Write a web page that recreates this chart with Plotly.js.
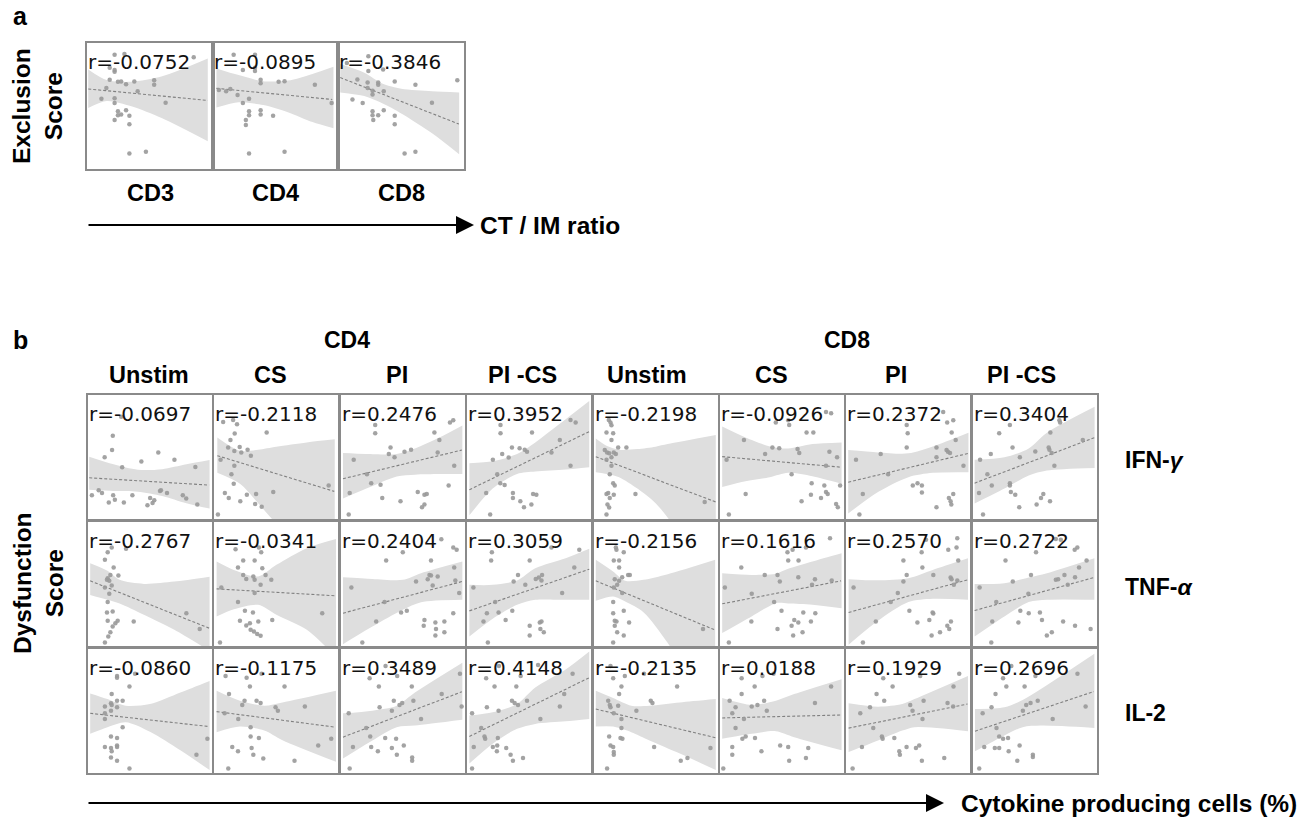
<!DOCTYPE html>
<html><head><meta charset="utf-8">
<script src="https://cdn.plot.ly/plotly-3.0.1.min.js"></script>
<style>body{margin:0;background:#fff}#plot{width:1311px;height:819px}</style>
</head><body><div id="plot"></div>
<script>
// ---------- Panel a ----------
const aLabels = ['CD3','CD4','CD8'];
const aR = ['-0.0752','-0.0895','-0.3846'];
const aX = [
 [21.4,29.4,85.6,17.4,21.4,21.4,17.4,24.1,26.7,30.7,37.4,53.5,53.5,14.7,40.1,10.7,21.4,21.4,62.8,24.1,30.7,24.1,26.7,33.4,21.4,33.4,33.4,46.8],
 [16,33.3,23.5,33.3,33.3,4,13.3,9.9,19.2,28.5,23.5,37.9,37.9,52.5,57.3,81.9,95.5,28.5,37.9,28.5,37.9,48,25.9,25.9,28.5,57.3],
 [5.9,23.3,23.3,35.3,14.4,22.7,22.7,31.3,31.3,26.7,35.8,44.7,61.5,95.5,10.4,18.7,26.7,74.9,26.7,35.8,26.7,31.3,44.7,27.3,44.7,52.7,61.5]
];
const aY = [
 [91.5,92,89.4,81,79.1,77.8,71.2,69.6,69.8,67.7,69.8,70.9,67.2,64.6,61.9,55.8,56.3,52.4,52.6,45.8,46.6,42.6,43.1,42.1,38.6,35.2,11.6,13],
 [91.5,91.5,79.1,81,78.3,63,63.8,61.9,59,55.8,52.4,71.2,68.5,69.6,70.1,67.2,52.4,45.8,46.6,42.6,43.1,42.1,38.6,34.7,11.6,13],
 [84.9,90.2,78.3,79.6,71.4,69,64.6,69,67.2,62.4,61.9,69.8,67.2,70.9,55.3,52.4,59.3,52.6,45.8,46.6,42.6,42.6,42.1,38.6,35.2,11.6,13]
];
const aLine = [[0,63.8,97,54.5],[2,64.3,96,55.3],[0.5,73,96.8,35.4]];
const aBandX = [[0,15,35,60,97],[2,20,40,60,80,97],[0.5,20,35,50,75,97]];
const aBandUp = [[79.6,71,69.6,74,88.4],[80.4,75,70,70.6,76,81.7],[84,77,68,64,62,61]];
const aBandLo = [[48.4,54,49.7,40,21.4],[48.7,53,50.8,45,37,32],[61,58,52,44,28,11]];

// ---------- Panel b ----------
const groupLabels = ['CD4','CD8'];
const colLabels = ['Unstim','CS','PI','PI -CS','Unstim','CS','PI','PI -CS'];
const rowLabels = ['IFN-<i>γ</i>','TNF-<i>α</i>','IL-2'];

const ifnR = ['-0.0697','-0.2118','0.2476','0.3952','-0.2198','-0.0926','0.2372','0.3404'];
const tnfR = ['-0.2767','-0.0341','0.2404','0.3059','-0.2156','0.1616','0.2570','0.2722'];
const il2R = ['-0.0860','-0.1175','0.3489','0.4148','-0.2135','0.0188','0.1929','0.2696'];

const ifnX = [
 [26.3,19.4,18.8,12.7,27.1,42.9,56.8,70.1,87.3,7.8,10.5,2.2,19.7,21.1,16.1,28.5,35.5,50.1,59,64,47.9,52.1,53.5,77,79.8,88.9,58.2],
 [6.2,14.4,17.6,15.7,12.2,10.3,15.4,19.8,21.1,26.3,29,42,4.1,15.4,13,14.9,7.6,10.8,20.3,25.7,33.3,32.5,37.9,47.4,93,1.9],
 [27.3,27.3,39.9,38.5,43.2,51.4,56.8,76,80.1,78.7,88.8,91.5,92.3,9.6,20.5,24,31.7,6.3,33.1,48.1,62.3,67.8,69.7,67.8,65.8,87.7,5.5],
 [26.4,26.4,52.3,20.1,27.8,33.1,35.8,42.1,46.3,48.2,75.2,68.3,84,88.2,84,23.7,26.2,29.8,14.6,36.6,36.6,42.7,45.7,53.2,55.9,51.8,17.9],
 [11.5,12.9,13.7,9.6,15.1,13.7,8.2,10.1,11.8,15.6,17.3,19.2,26,9.6,13.7,13.7,12.3,15.1,16.4,11,9.6,12.3,15.6,10.4,11.8,9.6,33.4,90.4],
 [44.9,55.1,55.9,70.2,75.8,86.2,90.4,18.7,42.1,47.7,62.8,64.2,36.1,89,95.3,4.4,86.2,57.9,74.4,84.8,86.2,87.6,73.8,82.1,20.1,66.1,94.5,95.9,97.8,6.3],
 [48.6,49.4,48.6,27.2,6.9,33.3,12.5,9.7,73.1,73.1,81.4,82.5,84.2,88.9,85.6,81.9,86.9,78.6,95.3,53.6,57.5,61.1,61.1,86.9,83.3,84.7,85.3,73.1],
 [70.2,70.8,29.5,62.8,20.7,13.8,5,31.7,37.7,50.4,61.4,62,63.9,66.1,89.5,11,14.6,29.5,29.5,30.3,33.9,4.1,37.2,51.5,55.1,57,62.5,7.4]
];
const ifnY = [
 [83.2,67.4,55.7,49.7,41.6,46.2,53.8,47.8,41.8,22.6,20.4,18.5,18.5,14.9,12.5,12.5,18.5,16.3,22.6,20.4,10.3,12.2,14.4,18.5,15.8,10.9,22],
 [78.8,80.4,76.9,69.3,63.9,57.9,54.9,58.2,53.8,56,51.1,70.1,47.8,42.9,35.9,28,20.4,16.3,13.6,19,19.6,11.4,9,21.2,26.6,2.7],
 [76.4,69.6,57.9,52.4,49.7,54.3,56,70.1,63.9,53.8,78.3,80.2,42.9,47.8,35.9,28.5,27.2,20.4,16.3,13.6,21.2,19,19.6,10.9,8.7,26.6,2.7],
 [76.4,69.6,70.1,47.8,52.4,49.5,57.9,57.3,56,54.3,63.9,53.8,80.4,78.3,42.9,35.9,28.5,26.9,20.4,20.4,16.3,13.6,8.7,19.6,19,10.9,2.7],
 [80.4,78.3,76.1,70.1,69.6,63.9,55.7,53.8,53,53.8,52.4,57.9,57.9,47.8,49.7,42.9,35.9,28.5,26.6,20.4,19.6,16.3,19,10.9,8.4,2.7,19.6,13],
 [78.3,80.2,76.4,70.1,70.1,87,85.9,63.9,57.9,57.3,56.5,53.3,52.4,54.3,49.7,47.8,42.9,35.9,28.5,26.6,21.2,19.6,19,16.3,19.6,13.6,11.4,8.7,26.6,2.7],
 [76.4,69.6,57.9,52.4,47.8,35.9,19.6,2.7,57.9,49.7,55.7,54.3,53.3,63.9,70.1,78.3,80.2,87,42.9,26.6,28.5,26.6,20.7,19.6,16.3,13.6,10.9,8.7],
 [80.2,78.3,76.4,70.1,69.6,52.4,47.8,57.9,49.7,54.6,57.9,56,53.3,42.9,63.9,35.9,26.6,28.5,26.6,21.2,19,20.4,8.7,10.9,16.3,19.6,13.6,2.7]
];
const ifnLine = [[0,32.9,98.6,26.9],[1.4,51.1,97.6,21.7],[0.8,32.1,98.6,55.7],[0.8,23.1,99.4,70.9],[0.8,50.3,99.5,13],[0.8,50.3,98.6,41.6],[0.5,29.3,99.4,53],[0.5,28.5,99.2,66]];
const ifnBandX = [[0,20,40,60,80,99],[1.4,20,35,50,75,98],[0.8,20,45,60,80,99],[0.8,20,40,55,80,99.4],[0.8,10,20,35,50,60,99.5],[0.8,20,40,55,75,99],[0.5,25,50,70,99.4],[0.5,25,45,60,99.2]];
const ifnBandUp = [[50.3,44,39.5,40,44,47.5],[66,55,56,58.5,62,64.5],[53.3,52.5,52.5,57,66,76],[44.8,46.5,52.4,62,81,96],[65.2,59,56,56.5,58.5,60.6,68],[75,66,58.7,57,60.6,62],[55.7,53.8,53,58.7,70],[47.8,49.7,57,70,91.3]];
const ifnBandLo = [[23,22,21.5,18,12,7.6],[37,28,12,-5,-30,-50],[15.8,24,34,35.5,36,36],[2,24,36,38,39.7,41.6],[37.5,36,33.4,24,12,0,-60],[25.3,30,33.4,37,34.2,28],[3.5,21.2,33.4,37,37.5],[11.7,24,34.8,38.9,41]];

const tnfX = [
 [18.5,15.2,30.3,12.9,20.1,17.4,24,15.2,14.6,16.5,18.5,12.9,16.5,15.2,14.6,19.3,15.2,19.3,21.5,23.4,36.6,17.4,15.7,12.9,79.9,90.9],
 [16.4,35.6,37.5,22.7,32.1,18.4,38.4,22.7,25.2,31,32.1,41.1,37,45.8,4.7,32.1,18.4,24.1,30.7,20,28.2,25.2,35.1,46.6,28.8,31.5,34.2,37,3.6,87.7],
 [81.7,91.5,94.3,50,36.3,73.2,92.3,71.9,73.2,78.7,70.5,60.9,74.6,93.2,96.4,7.7,35,48.6,53.3,28.1,91.5,67.8,67.2,76.8,84.2,77.3,84.2,76.8,16.7],
 [68.3,91.2,19.3,18.7,50.4,40.8,37.2,46.8,55.4,57.9,60.6,60.1,87.1,77.1,4.1,22,15.2,24.8,36.1,12.4,30.6,50.4,58.7,60.1,59.2,62,50.4,16],
 [17.3,17.8,15.6,20,23.8,20,27.4,28.8,22.5,16.4,20,18.4,15.6,22.5,15.1,23.8,15.1,16.4,17.8,28.2,16.4,18.4,23.8,15.1,89],
 [54.5,58.7,69.7,89.5,55.1,63.6,16.5,35.8,46.3,48.2,63.4,25.1,3,77.1,74.7,90.9,43.5,49.6,67.5,77.4,24.8,60.1,63.4,57.9,73.8,46.3,59.2,66.9,6.3],
 [64.5,90.2,82.8,89.6,60.9,45.9,91,61.5,48.6,70.5,45.9,84.7,85.5,87.4,90.2,4.9,41.3,35.5,50.8,69.9,70.5,23.2,57.4,67.2,85,82,83.6,76,69.1,12.6],
 [67.3,71.4,82.8,85,51,25.9,46.9,31.9,67.3,69.2,74.4,83.1,86.4,92.6,77.1,4.6,18.3,44.7,38.1,45,54.2,55.9,15,36.5,73.3,83.1,95.9,64,59.9,14.2]
];
const tnfY = [
 [80,76.2,78.9,69.9,63.6,57.5,57,54.8,53.4,52.6,48.8,47.1,41.9,35.1,26.6,27.4,19.7,15.1,17.8,19.7,19.2,10.4,6.8,1.9,26,12.9],
 [78.6,80,76.2,69.3,69.3,63.6,63,57.5,54.2,56.2,53.4,57.5,49.3,53.4,47.1,42.5,35.1,27.9,26.6,19.7,17.8,15.9,19.2,20.3,12.3,11,8.8,7.4,1.9,26],
 [86.8,80,78.1,76.2,69.3,69.3,63.6,57.5,57,56.2,54,52,48.8,52.9,42.5,47.1,35.1,26.6,27.9,19.2,26,20.3,15.6,18.4,19.2,12.9,10.4,7.7,1.9],
 [80,78.1,76.2,69.3,69.3,57.5,52,49.3,54.2,55.3,57.5,52.9,63.6,42.5,47.1,35.1,26,26.6,27.9,19.2,20.3,15.6,18.4,19.2,12.9,10.4,7.7,1.9],
 [80,78.1,69.3,69.3,76.2,63.6,57.5,57.5,55.6,54,52.6,49.3,47.1,42.5,35.1,27.9,26,19.7,19.2,18.4,15.6,10.4,7.7,1.9,12.9],
 [76.2,78.1,80,87.7,69.3,69.3,63.6,57.5,57.5,52,55.6,41.9,47.1,54,49.3,52.9,35.1,27.9,26.6,26,19.2,20.3,18.4,15.6,19.2,12.9,7.7,10.4,1.9],
 [86.3,87.7,78.1,80,76.2,69.3,69.3,63.6,57.5,57.5,52,55.3,54,49.3,52.9,47.1,42.5,35.1,27.9,26.6,25.8,19.2,18.4,20.3,19.2,15.6,12.9,10.4,7.7,1.9],
 [87,86.3,78.1,80,76.2,69.3,57.5,52,53.4,54,57.5,55.6,63.6,69.3,49.3,47.1,35.1,41.9,27.9,26,26.6,20.3,19.2,18.4,19.2,15.6,12.9,10.4,7.7,1.9]
];
const tnfLine = [[0.8,52.6,98.6,13.7],[0.8,46,98.6,40.3],[0.8,26,98.6,52],[0.8,27.9,99.4,62.2],[0.8,52.6,98.6,12.3],[0.8,33.7,98.6,52.6],[0.8,26.6,98.6,53.4],[0.5,28.2,98.6,55.3]];
const tnfBandX = [[0.8,15,25,45,70,99],[0.8,15,35,50,75,99],[0.8,25,50,65,99],[0.8,20,40,55,80,99.4],[0.8,15,25,40,60,99],[0.8,25,45,55,75,99],[0.8,25,50,70,99],[0.5,25,45,60,99]];
const tnfBandUp = [[67,60.8,53.4,50.1,52,56],[68.5,61.6,56.2,65.8,79.5,87],[55.6,54.2,53.4,58.9,68.5],[49.3,49.3,52.9,63,71.2,79],[69.9,60.3,52.6,53.4,58,69.9],[58.9,57.5,58.5,62.5,68.5,75.3],[54,53,54.8,61.6,71.2],[49.9,50.7,55.3,58.9,71.2]];
const tnfBandLo = [[41,37,34,24.7,12.3,-5],[23.3,29.3,32.9,24.7,12.3,-10],[0.5,15,28.8,35,37],[6.8,21.4,32.9,37,37,37],[36.2,39.7,35.6,26.8,1.4,-60],[9.6,23.3,34.2,34,33,30.1],[0,19.7,35.1,37.8,37],[6.8,23.3,35.1,37,37]];

const il2X = [
 [22.9,22.9,37.7,33.1,18.5,17.9,18.5,22.9,27.5,22.9,12.9,17.9,12.9,12.9,27.5,17.9,22.9,12.9,17.9,18.5,22.9,22.9,17.9,22.9,33.1,88.2,97.2],
 [8.2,25.5,37.8,28.2,56.7,11,23.8,21.9,33.7,37,49.3,51.2,73.4,7.4,18.6,28.8,28.8,35.6,13.7,18.4,29.6,31,39.2,64.9,10.4,84.4,95.1],
 [35.8,22.7,45.4,30.3,57.4,42.6,49.5,47.3,58.7,30.9,41,82,97,98.4,5.5,19.9,23.2,65,9,35.5,44.5,24,29.5,41,50.8,45.1,57.7,57.7,6.3],
 [25.1,14.6,43,21.5,39.4,57.3,85.7,78.8,35.8,38,40.8,48.2,15.2,24.8,75.2,3,59.2,10.5,13.2,13.8,4.4,20.1,23.7,24.2,23.4,31.1,34.7,36.6,44.9,3],
 [12.9,15.1,24.7,40.5,21.9,20,67.7,11,12.3,12.9,19.2,15.6,21.9,34.2,46,47.4,21.9,11.8,21.1,22.7,12.9,15.1,15.6,15.6,48.8,10.1,70.7,76.2,95.1],
 [16.8,33.9,43,27.5,16.8,90.4,6.9,11.8,9.1,18.7,25.1,29.8,35.3,37.5,77.1,11.8,17.4,20.1,27.8,9.1,9.1,33.1,48.5,55.1,55.9,71.6,69.7,1.7],
 [29.3,59.7,37,23.8,30.1,18.4,10.4,21.1,28.2,28.8,51.5,53.4,62.5,61.6,82.2,87.1,86.8,91.8,11.8,38.4,42.5,43,48.5,56.2,58.9,61.1,79.5,4.1],
 [23.9,30.7,50.5,26.6,41.6,85.1,17.7,14.4,7.1,40.2,42.9,46.5,52.4,18.5,20.7,23.9,28,64.7,91.8,8.4,17.1,20.7,28.5,37.5,35.6,48.4,48.4,4.3]
];
const il2Y = [
 [78.8,77.4,80.7,70.1,63.9,56.3,54.9,58.4,58.4,53,53.8,50.3,48.1,43.5,36.7,29.1,27.7,20.4,19.6,16.8,21.7,20.4,11.7,9,2.7,14.1,27.2],
 [78.8,77.4,80.7,70.1,70.1,63.9,58.4,54.9,58.4,56.5,53,50.3,53.8,48.1,43.5,36.7,29.1,27.7,20.4,16.8,19.6,14.1,10.9,9,2.7,21.7,27.2],
 [87,76.9,78.8,70.1,70.1,58.4,56.5,54.9,58.4,53,50.3,63.9,80.7,53.8,48.1,36.1,29.1,43.5,20.4,27.7,27.2,20.4,16.8,19.6,21.7,14.1,11.7,9,2.7],
 [87,76.9,78.8,70.1,70.1,87.8,80.7,63.9,58.4,56.5,54.9,58.4,53,50.3,53.8,48.1,43.5,36.1,29.1,27.2,20.4,20.4,21.7,27.7,16.8,19.6,14.1,9,11.4,2.7],
 [87,76.9,78.8,80.7,70.1,63.9,70.1,58.4,54.9,53,54.3,48.1,43.5,50.3,58.4,56.5,36.1,29.1,27.7,27.2,21.7,20.4,16.3,14.1,20.4,2.7,9,11.4,19.6],
 [76.9,78.8,80.7,70.1,63.9,70.1,58.4,53,48.1,43.5,53.8,54.9,58.4,50.3,56.5,36.1,27.2,29.1,27.7,20.4,14.1,16.8,21.7,20.4,9,19.6,11.4,2.7],
 [76.9,78.8,70.1,63.9,58.4,53,48.1,36.1,29.1,27.2,54.9,50.3,58.4,43.5,56.5,70.1,53.8,80.7,20.4,27.7,16.8,14.1,20.4,19.6,21.7,9,11.4,2.7],
 [76.9,87,78.8,70.1,70.1,80.7,63.9,53,48.1,50.3,54.9,56.5,58.4,36.1,29.1,27.2,27.7,43.5,53.8,20.4,19.6,19.6,16.8,21.7,9,14.1,12.2,2.7]
];
const il2Line = [[0.8,48.1,98.6,37.2],[0.8,49.5,98.6,36.7],[0.8,28.5,98.6,65.8],[0.8,29.1,99.4,77.4],[0.8,51.6,99.5,28],[0.8,44.3,98.6,46.7],[0.8,35.9,98.6,55.7],[0.8,33.4,98.6,66]];
const il2BandX = [[0.8,15,30,50,75,99],[0.8,20,40,55,99],[0.8,25,45,60,99],[0.8,20,40,55,80,99.4],[0.8,15,30,45,70,99.5],[0.8,25,45,60,99],[0.8,25,45,55,99],[0.8,25,40,55,99]];
const il2BandUp = [[64.4,59.8,54.3,55.7,65.2,74.7],[66.6,58.4,54.3,57,66.6],[48.1,50.3,54.3,65.2,89.7],[46.2,48.9,55.7,69.3,84.2,99],[66.6,60.6,54.3,54.3,57,59.8],[60.6,54.9,58.4,63.9,76.1],[56.3,53.5,55.7,59.8,78.8],[51.6,53,59,68,97]];
const il2BandLo = [[31.3,36.7,40.8,33,17.7,1.4],[32.6,37.2,34,26,8.2],[10.9,25.8,36.7,38,42.7],[6.8,23.1,35.3,39.4,41.5,43.5],[37.2,37.2,32.6,25.8,15,1.4],[27.2,31.3,33.4,28.5,17.7],[16.3,25.8,33.9,36.7,33.4],[16.8,29.9,36.7,38,36.1]];

// ---------- drawing ----------
const W = 1311, H = 819;
const BOLD = 'Liberation Sans, Arial, sans-serif';
const traces = [];
const layout = {
  width: W, height: H, margin: {l:0, r:0, t:0, b:0}, showlegend: false,
  paper_bgcolor: '#ffffff', plot_bgcolor: '#ffffff',
  annotations: [], shapes: []
};
let n = 0;
function addPanel(left, top, w, h, px, py, ln, bx, bu, bl, rText) {
  n++;
  const xa = n === 1 ? 'x' : 'x' + n, ya = n === 1 ? 'y' : 'y' + n;
  const ax = {showgrid:false, zeroline:false, showticklabels:false, ticks:'', showline:true, mirror:true,
              linecolor:'#8a8a8a', linewidth:2, range:[-1,101], fixedrange:true};
  layout[n === 1 ? 'xaxis' : 'xaxis' + n] = Object.assign({}, ax, {domain:[left/W, (left+w)/W], anchor: ya});
  layout[n === 1 ? 'yaxis' : 'yaxis' + n] = Object.assign({}, ax, {domain:[1-(top+h)/H, 1-top/H], anchor: xa});
  traces.push({x: bx, y: bl, xaxis: xa, yaxis: ya, mode:'lines', line:{width:0, shape:'spline', smoothing:0.8}, hoverinfo:'skip'});
  traces.push({x: bx, y: bu, xaxis: xa, yaxis: ya, mode:'lines', fill:'tonexty', fillcolor:'#dedede',
               line:{width:0, shape:'spline', smoothing:0.8}, hoverinfo:'skip'});
  traces.push({x:[ln[0], ln[2]], y:[ln[1], ln[3]], xaxis: xa, yaxis: ya, mode:'lines',
               line:{color:'#808080', width:1.1, dash:'3px,2px'}, hoverinfo:'skip'});
  traces.push({x: px, y: py, xaxis: xa, yaxis: ya, mode:'markers', cliponaxis:false,
               marker:{color:'#999999', size:4.5, opacity:0.9}, hoverinfo:'skip'});
  layout.annotations.push({xref: xa + ' domain', yref: ya + ' domain', x: 0, y: 1, xanchor:'left', yanchor:'top',
    text: 'r=' + rText, showarrow:false, xshift:-1, yshift:-5,
    font:{family:'DejaVu Sans, Verdana, sans-serif', size:20, color:'#111111'}});
}
function label(text, xp, yp, size, opts) {
  layout.annotations.push(Object.assign({xref:'paper', yref:'paper', x: xp/W, y: 1-yp/H, text: text,
    showarrow:false, xanchor:'center', yanchor:'middle', font:{family:BOLD, size:size, color:'#000000', weight:700}}, opts || {}));
}
function arrow(x0, x1, yp) {
  layout.annotations.push({xref:'paper', yref:'paper', x: x1/W, y: 1-yp/H, ax: -(x1-x0), ay: 0, axref:'pixel', ayref:'pixel',
    text:'', showarrow:true, arrowhead:2, arrowsize:1.8, arrowwidth:2, arrowcolor:'#000000', standoff:0});
}

// Panel a
const aLeft = [87, 212.7, 338.4];
for (let i = 0; i < 3; i++) {
  addPanel(aLeft[i], 43, 125.7, 126, aX[i], aY[i], aLine[i], aBandX[i], aBandUp[i], aBandLo[i], aR[i]);
}
label('a', 20, 16, 25);
label('Exclusion<br>Score', 38, 106, 24.5, {textangle:-90});
const aLabX = [150, 275, 401];
aLabels.forEach((t, i) => label(t, aLabX[i], 193, 23.5));
arrow(87, 474, 225);
label('CT / IM ratio', 478, 225, 24.5, {xanchor:'left'});

// Panel b
const rowsX = [ifnX, tnfX, il2X], rowsY = [ifnY, tnfY, il2Y], rowsLine = [ifnLine, tnfLine, il2Line];
const rowsBX = [ifnBandX, tnfBandX, il2BandX], rowsBU = [ifnBandUp, tnfBandUp, il2BandUp], rowsBL = [ifnBandLo, tnfBandLo, il2BandLo];
const rowsR = [ifnR, tnfR, il2R];
const rowTop = [395, 522, 649];
for (let r = 0; r < 3; r++) {
  for (let c = 0; c < 8; c++) {
    addPanel(88 + c*126.4, rowTop[r], 124, 124, rowsX[r][c], rowsY[r][c], rowsLine[r][c],
             rowsBX[r][c], rowsBU[r][c], rowsBL[r][c], rowsR[r][c]);
  }
}
label('b', 20, 340, 25);
label(groupLabels[0], 347, 340, 23);
label(groupLabels[1], 847, 340, 23);
const colX = [149, 270, 397, 522, 647, 771, 896, 1021];
colLabels.forEach((t, i) => label(t, colX[i], 375, 23.5));
const rowLabY = [460, 587, 713];
rowLabels.forEach((t, i) => label(t, 1123, rowLabY[i], 23, {xanchor:'left'}));
label('Dysfunction<br>Score', 38, 583, 24.5, {textangle:-90});
arrow(87, 944, 803);
label('Cytokine producing cells (%)', 959, 803, 24.5, {xanchor:'left'});

Plotly.newPlot('plot', traces, layout, {displayModeBar:false, staticPlot:true});
</script>
</body></html>
